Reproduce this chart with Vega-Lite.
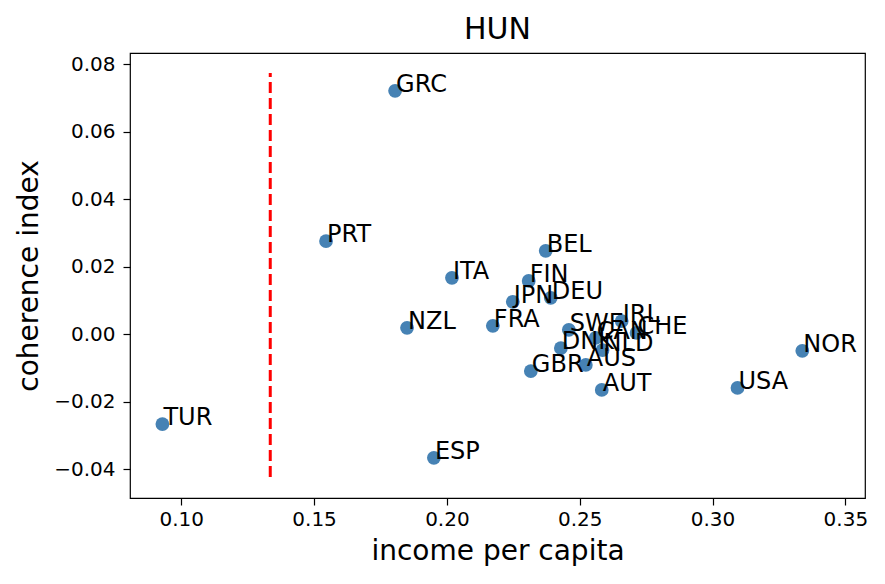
{
  "$schema": "https://vega.github.io/schema/vega-lite/v6.json",
  "width": 735,
  "height": 445,
  "autosize": {"type": "none"},
  "padding": {"left": 130, "top": 53, "right": 20, "bottom": 86},
  "background": "white",
  "config": {
    "font": "DejaVu Sans",
    "view": {"stroke": "black", "strokeWidth": 1.2},
    "axis": {"grid": false, "domain": false, "tickColor": "black", "tickSize": 7, "tickWidth": 1.2, "labelFontSize": 20, "labelColor": "black", "titleFontSize": 28, "titleFontWeight": "normal", "titleColor": "black", "labelFont": "DejaVu Sans", "titleFont": "DejaVu Sans"}
  },
  "title": {"text": "HUN", "fontSize": 30, "fontWeight": "normal", "font": "DejaVu Sans", "offset": 8, "color": "black"},
  "datasets": {
    "pts": [
      {"country": "TUR", "income": 0.0929, "coherence": -0.0266},
      {"country": "GRC", "income": 0.1805, "coherence": 0.0721},
      {"country": "PRT", "income": 0.1545, "coherence": 0.0276},
      {"country": "ITA", "income": 0.2019, "coherence": 0.0167},
      {"country": "NZL", "income": 0.1850, "coherence": 0.0019},
      {"country": "ESP", "income": 0.1951, "coherence": -0.0366},
      {"country": "FRA", "income": 0.2173, "coherence": 0.0025},
      {"country": "JPN", "income": 0.2248, "coherence": 0.0096},
      {"country": "FIN", "income": 0.2308, "coherence": 0.0158},
      {"country": "BEL", "income": 0.2372, "coherence": 0.0247},
      {"country": "DEU", "income": 0.2391, "coherence": 0.0108},
      {"country": "GBR", "income": 0.2316, "coherence": -0.0109},
      {"country": "SWE", "income": 0.2459, "coherence": 0.0013},
      {"country": "DNK", "income": 0.2429, "coherence": -0.0041},
      {"country": "AUS", "income": 0.2523, "coherence": -0.0091},
      {"country": "AUT", "income": 0.2583, "coherence": -0.0165},
      {"country": "IRL", "income": 0.2658, "coherence": 0.0039},
      {"country": "CHE", "income": 0.2714, "coherence": 0.0004},
      {"country": "CAN", "income": 0.2560, "coherence": -0.0011},
      {"country": "NLD", "income": 0.2586, "coherence": -0.0047},
      {"country": "USA", "income": 0.3094, "coherence": -0.0159},
      {"country": "NOR", "income": 0.3338, "coherence": -0.0049}
    ],
    "line": [{"x": 0.1335, "y1": -0.0423, "y2": 0.0774}]
  },
  "layer": [
    {
      "data": {"name": "line"},
      "mark": {"type": "rule", "color": "red", "strokeWidth": 3, "strokeDash": [11, 5]},
      "encoding": {
        "x": {"field": "x", "type": "quantitative", "scale": {"domain": [0.0807, 0.3574], "nice": false, "zero": false}},
        "y": {"field": "y1", "type": "quantitative", "scale": {"domain": [-0.0485, 0.0833], "nice": false, "zero": false}},
        "y2": {"field": "y2"}
      }
    },
    {
      "data": {"name": "pts"},
      "mark": {"type": "point", "filled": true, "size": 190, "color": "#4682b4", "opacity": 1},
      "encoding": {
        "x": {"field": "income", "type": "quantitative", "title": "income per capita", "scale": {"domain": [0.0807, 0.3574], "nice": false, "zero": false}, "axis": {"values": [0.10, 0.15, 0.20, 0.25, 0.30, 0.35], "format": ".2f", "labelPadding": 4, "titlePadding": 8}},
        "y": {"field": "coherence", "type": "quantitative", "title": "coherence index", "scale": {"domain": [-0.0485, 0.0833], "nice": false, "zero": false}, "axis": {"values": [-0.04, -0.02, 0, 0.02, 0.04, 0.06, 0.08], "format": ".2f", "labelPadding": 8, "titlePadding": 10}}
      }
    },
    {
      "data": {"name": "pts"},
      "mark": {"type": "text", "align": "left", "baseline": "alphabetic", "fontSize": 24, "dx": 1, "dy": 1, "color": "black", "font": "DejaVu Sans"},
      "encoding": {
        "x": {"field": "income", "type": "quantitative"},
        "y": {"field": "coherence", "type": "quantitative"},
        "text": {"field": "country"}
      }
    }
  ]
}
